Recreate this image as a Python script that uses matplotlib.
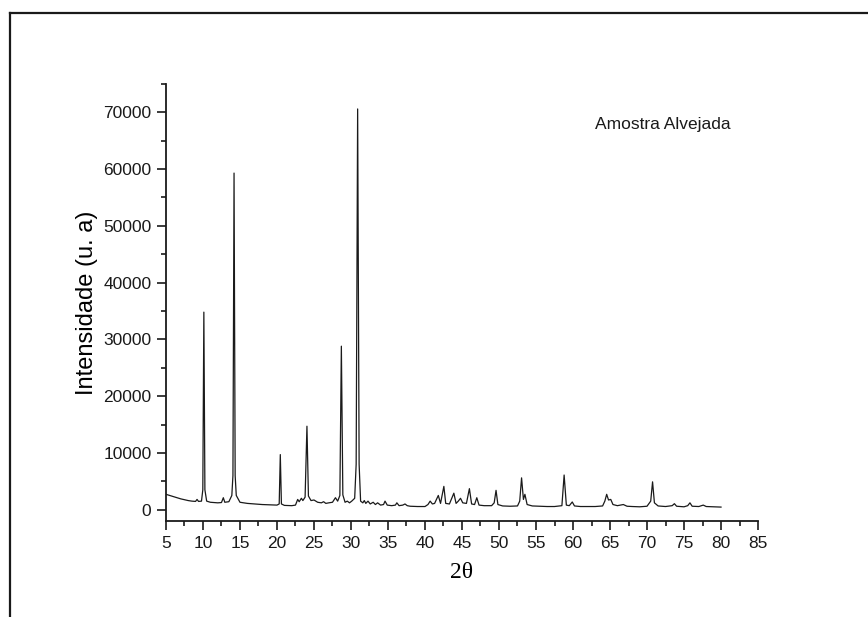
import matplotlib
matplotlib.use('Agg')
import matplotlib.pyplot as plt
from matplotlib.lines import Line2D
from matplotlib.ticker import MultipleLocator

# diffractogram vertices (2 theta, intensity)
two_theta = [
    5.0, 5.5, 6.0, 6.5, 7.0, 7.5, 8.0, 8.5, 9.0, 9.2, 9.4, 9.8, 9.98, 10.12, 10.26, 10.5,
    11.0, 11.5, 12.0, 12.5, 12.75, 12.95, 13.5, 13.9, 14.05, 14.2, 14.35, 14.5,
    15.0, 15.5, 16.0, 17.0, 18.0, 19.0, 20.0, 20.3, 20.45, 20.6, 21.0, 22.0,
    22.5, 22.8, 23.0, 23.3, 23.5, 23.8, 24.05, 24.25, 24.6, 25.0, 25.5, 26.0,
    26.3, 26.6, 27.0, 27.5, 27.9, 28.2, 28.5, 28.7, 28.9, 29.2, 29.5, 29.8,
    30.1, 30.5, 30.7, 30.9, 31.1, 31.3, 31.6, 31.8, 32.0, 32.3, 32.6, 33.0,
    33.3, 33.6, 34.0, 34.4, 34.6, 34.9, 35.5, 36.0, 36.2, 36.5, 37.0, 37.3,
    37.6, 38.0, 39.0, 40.0, 40.4, 40.7, 41.0, 41.3, 41.8, 42.1, 42.55, 42.8,
    43.3, 43.9, 44.2, 44.5, 44.8, 45.1, 45.6, 46.0, 46.3, 46.7, 47.0, 47.3,
    48.0, 49.0, 49.35, 49.6, 49.85, 50.5, 51.5, 52.5, 52.8, 53.05, 53.3, 53.5,
    53.8, 54.5, 55.5, 56.5, 57.5, 58.5, 58.8, 59.1, 59.5, 59.9, 60.2, 61.0,
    62.0, 63.0, 64.0, 64.3, 64.55, 64.8, 65.1, 65.4, 66.0, 66.8, 67.3, 68.0,
    69.0, 70.0, 70.5, 70.75, 71.0, 71.5, 72.5, 73.4, 73.7, 74.0, 75.0, 75.5,
    75.8, 76.1, 77.0, 77.6, 78.0, 79.0, 80.0,
]
intensity = [
    2700, 2500, 2300, 2100, 1900, 1750, 1600, 1500, 1450, 1800, 1450, 1500, 3500, 34800, 3500, 1500,
    1300, 1250, 1200, 1250, 2100, 1300, 1400, 2500, 6000, 59300, 6000, 2500,
    1300, 1200, 1100, 1000, 900, 850, 800, 1000, 9700, 1000, 750, 700,
    800, 1800, 1400, 2000, 1600, 2200, 14700, 2400, 1600, 1700, 1300, 1200,
    1400, 1100, 1200, 1300, 2100, 1500, 2500, 28800, 2600, 1300, 1500, 1200,
    1500, 2000, 8000, 70600, 8000, 1500, 1200, 1600, 1100, 1500, 1000, 1300,
    900, 1200, 800, 900, 1500, 800, 700, 800, 1200, 700, 800, 1000,
    700, 600, 550, 550, 900, 1500, 1000, 1100, 2500, 1100, 4100, 1100,
    1000, 2900, 1100, 1500, 2000, 1200, 1100, 3700, 1000, 900, 2100, 800,
    700, 700, 1200, 3400, 900, 650, 600, 650, 1500, 5600, 1800, 2700,
    900, 650, 600, 550, 550, 700, 6100, 800, 700, 1350, 650, 550,
    550, 550, 650, 1500, 2700, 1700, 1800, 900, 700, 900, 600, 550,
    500, 600, 1500, 4900, 1200, 650, 550, 700, 1050, 600, 500, 700,
    1200, 600, 550, 800, 550, 500, 450,
]

sample_label = 'Amostra Alvejada'
x_label = '2θ'
y_label = 'Intensidade (u. a)'

plt.rcParams['font.family'] = ['Liberation Sans', 'DejaVu Sans']

fig = plt.figure(figsize=(8.68, 6.17), dpi=100)
ax = fig.add_axes([0.1912, 0.1556, 0.6821, 0.7083])

ax.plot(two_theta, intensity, color='#1a1a1a', linewidth=0.9)

ax.set_xlim(5, 85)
ax.set_ylim(-2000, 75000)
ax.xaxis.set_major_locator(MultipleLocator(5))
ax.xaxis.set_minor_locator(MultipleLocator(2.5))
ax.set_yticks(range(0, 70001, 10000))
ax.yaxis.set_minor_locator(MultipleLocator(5000))

for side in ['top', 'right']:
    ax.spines[side].set_visible(False)
for side in ['left', 'bottom']:
    ax.spines[side].set_linewidth(1.3)
    ax.spines[side].set_color('#1a1a1a')

ax.tick_params(which='major', direction='out', length=6.5, width=1.2,
               labelsize=12.5, pad=4, colors='#1a1a1a')
ax.tick_params(which='minor', direction='out', length=3.5, width=1.2, colors='#1a1a1a')

ax.set_xlabel(x_label, fontsize=17, labelpad=8, family=['Liberation Serif', 'DejaVu Serif'])
ax.set_ylabel(y_label, fontsize=17, labelpad=4)

fig.text(595 / 868, 1 - 124 / 617, sample_label, fontsize=12.5,
         va='center', ha='left', color='#1a1a1a')

# outer frame of the original figure (top and left edges only)
fig.add_artist(Line2D([10 / 868, 1.0], [1 - 13 / 617, 1 - 13 / 617],
                      transform=fig.transFigure, color='#1a1a1a', linewidth=1.6))
fig.add_artist(Line2D([10 / 868, 10 / 868], [0.0, 1 - 13 / 617],
                      transform=fig.transFigure, color='#1a1a1a', linewidth=1.6))

fig.savefig('out.png', dpi=100)
